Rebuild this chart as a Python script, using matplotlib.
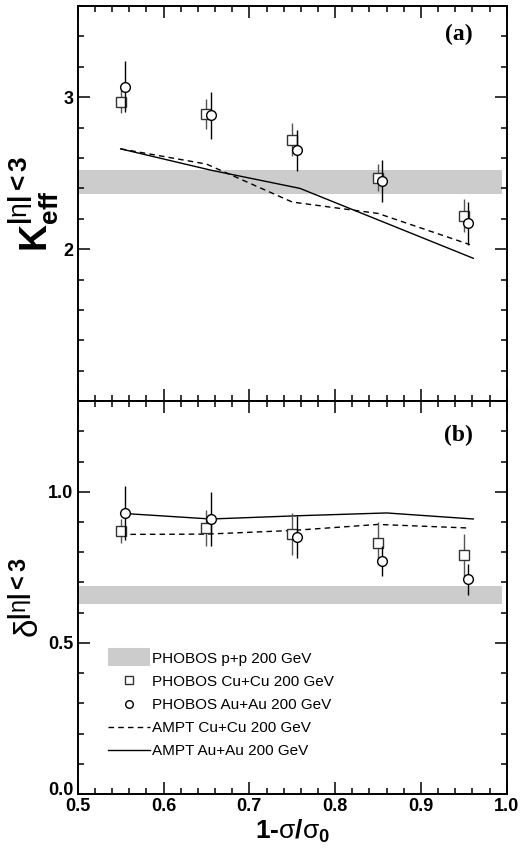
"""Keff and delta vs centrality, PHOBOS data with AMPT curves."""

import matplotlib

matplotlib.use("Agg")
import matplotlib.pyplot as plt
from matplotlib.lines import Line2D
from matplotlib.ticker import FormatStrFormatter, MultipleLocator
from matplotlib.transforms import ScaledTranslation

plt.rcParams["font.family"] = ["Liberation Sans", "DejaVu Sans"]
plt.rcParams["mathtext.fontset"] = "custom"
plt.rcParams["mathtext.rm"] = "Liberation Sans"
plt.rcParams["mathtext.bf"] = "Liberation Sans:bold"
plt.rcParams["mathtext.it"] = "Liberation Sans:italic"

# centrality bins (Au+Au points drawn slightly shifted)
x_cu = [0.55, 0.65, 0.75, 0.85, 0.95]
x_au = [0.555, 0.655, 0.755, 0.855, 0.955]
x_ampt_cu = [0.55, 0.65, 0.75, 0.85, 0.957]
x_ampt_au = [0.55, 0.655, 0.759, 0.86, 0.961]

# panel (a): Keff
keff_cu = [2.97, 2.89, 2.72, 2.47, 2.22]
keff_cu_err = [0.075, 0.10, 0.11, 0.09, 0.11]
keff_au = [3.07, 2.88, 2.65, 2.45, 2.17]
keff_au_err = [0.17, 0.155, 0.135, 0.14, 0.14]
keff_pp = (2.36, 2.52)
keff_ampt_cu = [2.66, 2.56, 2.31, 2.235, 2.03]
keff_ampt_au = [2.66, 2.52, 2.40, 2.17, 1.94]

# panel (b): delta
delta_cu = [0.87, 0.88, 0.861, 0.83, 0.792]
delta_cu_err = [0.04, 0.06, 0.07, 0.07, 0.07]
delta_au = [0.929, 0.91, 0.85, 0.77, 0.71]
delta_au_err = [0.09, 0.09, 0.07, 0.05, 0.05]
delta_pp = (0.628, 0.689)
delta_ampt_cu = [0.859, 0.86, 0.872, 0.892, 0.88]
delta_ampt_au = [0.929, 0.91, 0.921, 0.93, 0.91]

fig = plt.figure(figsize=(5.29, 8.59), dpi=100)
ax_a = fig.add_axes([0.147, 0.533, 0.811, 0.460])
ax_b = fig.add_axes([0.147, 0.0757, 0.811, 0.4573])

dash = (0, (4, 3))


def draw_panel(ax, cu, cu_err, au, au_err, pp, ampt_cu, ampt_au):
    ax.axhspan(pp[0], pp[1], xmin=0, xmax=0.99, color="#cccccc", lw=0, zorder=1)
    ax.plot(x_ampt_cu, ampt_cu, color="black", lw=1.0, ls=dash, zorder=2)
    ax.plot(x_ampt_au, ampt_au, color="black", lw=1.0, zorder=2)
    ax.errorbar(x_cu, cu, yerr=cu_err, fmt="s", ms=6.5, mfc="white", mec="#333333",
                mew=1.0, ecolor="#555555", elinewidth=1.0, capsize=0, zorder=3)
    ax.errorbar(x_au, au, yerr=au_err, fmt="o", ms=7, mfc="white", mec="black",
                mew=1.0, ecolor="black", elinewidth=1.0, capsize=0, zorder=4)
    ax.set_xlim(0.5, 1.0)
    ax.xaxis.set_major_locator(MultipleLocator(0.1))
    ax.xaxis.set_minor_locator(MultipleLocator(0.02))
    ax.tick_params(which="both", direction="in", top=True, right=True, width=1.1)
    ax.tick_params(which="major", length=8.5, labelsize=13, pad=3)
    ax.tick_params(which="minor", length=4.5)
    for spine in ax.spines.values():
        spine.set_linewidth(1.4)


draw_panel(ax_a, keff_cu, keff_cu_err, keff_au, keff_au_err, keff_pp,
           keff_ampt_cu, keff_ampt_au)
ax_a.set_ylim(1.0, 3.6)
ax_a.set_yticks([2, 3])
ax_a.yaxis.set_minor_locator(MultipleLocator(0.2))
ax_a.tick_params(labelbottom=False)
for lab in ax_a.get_yticklabels():
    lab.set_fontweight("bold")
ax_a.set_ylabel(r"$\mathbf{K}_{\mathbf{eff}}^{\mathbf{|}\mathrm{\eta}\mathbf{|<3}}$",
                fontsize=27, labelpad=2)
ax_a.text(0.96, 3.41, "(a)", family="Liberation Serif", fontweight="bold",
          fontsize=17, ha="right", va="center")

draw_panel(ax_b, delta_cu, delta_cu_err, delta_au, delta_au_err, delta_pp,
           delta_ampt_cu, delta_ampt_au)
ax_b.set_ylim(0.0, 1.3)
ax_b.set_yticks([0.0, 0.5, 1.0])
ax_b.yaxis.set_minor_locator(MultipleLocator(0.1))
ax_b.yaxis.set_major_formatter(FormatStrFormatter("%.1f"))
for lab in ax_b.get_xticklabels() + ax_b.get_yticklabels():
    lab.set_fontweight("bold")
# lift the "0.0" label a little so it clears the "0.5" below it
zero_lab = ax_b.get_yticklabels()[0]
zero_lab.set_transform(zero_lab.get_transform()
                       + ScaledTranslation(0, 4 / 72, fig.dpi_scale_trans))
ax_b.set_ylabel(r"$\mathrm{\delta}^{\mathbf{|}\mathrm{\eta}\mathbf{|<3}}$",
                fontsize=24, labelpad=2)
ax_b.set_xlabel(r"1-$\mathrm{\sigma}$/$\mathrm{\sigma}_{\mathbf{0}}$", fontsize=19,
                fontweight="bold", labelpad=2)
ax_b.text(0.96, 1.185, "(b)", family="Liberation Serif", fontweight="bold",
          fontsize=17, ha="right", va="center")

handles = [
    Line2D([], [], color="#cccccc", lw=13, solid_capstyle="butt"),
    Line2D([], [], ls="none", marker="s", ms=5.5, mfc="white", mec="#333333", mew=1.0),
    Line2D([], [], ls="none", marker="o", ms=5.5, mfc="white", mec="black", mew=1.0),
    Line2D([], [], color="black", lw=1.0, ls=dash),
    Line2D([], [], color="black", lw=1.0),
]
labels = [
    "PHOBOS p+p 200 GeV",
    "PHOBOS Cu+Cu 200 GeV",
    "PHOBOS Au+Au 200 GeV",
    "AMPT Cu+Cu 200 GeV",
    "AMPT Au+Au 200 GeV",
]
ax_b.legend(handles, labels, loc="upper left", bbox_to_anchor=(0.057, 0.378),
            frameon=False, fontsize=11, handlelength=2.7, handletextpad=0.13,
            labelspacing=0.6, borderaxespad=0)

fig.savefig("out.png", dpi=100)
